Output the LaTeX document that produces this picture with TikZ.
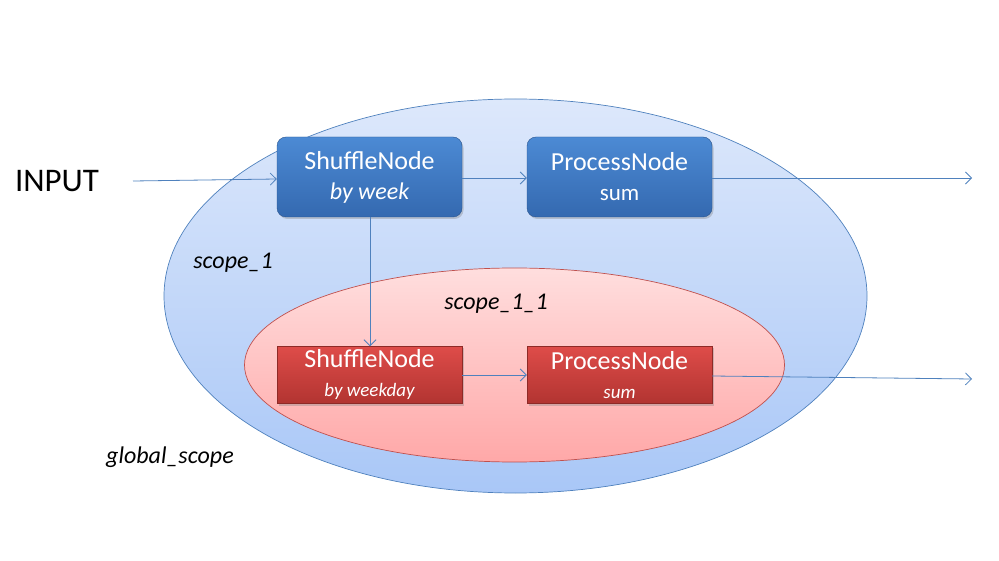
\documentclass[tikz,border=0pt]{standalone}
\usepackage{fontspec}
\setmainfont{Carlito}
\usetikzlibrary{arrows.meta}
\usetikzlibrary{shadows}

\definecolor{edgeblue}{HTML}{4F81BD}
\definecolor{edgered}{HTML}{C0504D}
\definecolor{scopetop}{HTML}{DDE8FB}
\definecolor{scopebot}{HTML}{A9C7F7}
\definecolor{pinktop}{HTML}{FFDEDE}
\definecolor{pinkbot}{HTML}{FFA8A8}
\definecolor{boxtop}{HTML}{4C8AD4}
\definecolor{boxbot}{HTML}{3469B0}
\definecolor{redtop}{HTML}{DE4C49}
\definecolor{redbot}{HTML}{B23431}

\tikzset{
  flow/.style={draw=edgeblue, line width=0.8pt, -{Straight Barb[length=6pt,width=12pt]}},
  bluenode/.style={rounded corners=9pt, draw=boxbot!80!black, top color=boxtop, bottom color=boxbot,
    text=white, align=center, minimum width=185pt, minimum height=80pt, inner sep=0pt,
    font=\fontsize{26}{30}\selectfont,
    drop shadow={shadow xshift=1.5pt, shadow yshift=-2pt, opacity=0.35}},
  rednode/.style={draw=redbot!80!black, top color=redtop, bottom color=redbot,
    text=white, align=center, minimum width=185pt, minimum height=57pt, inner sep=0pt,
    font=\fontsize{26}{29}\selectfont,
    drop shadow={shadow xshift=1.5pt, shadow yshift=-2pt, opacity=0.35}},
  scopelabel/.style={font=\fontsize{24}{28}\selectfont\itshape}
}

\begin{document}
\begin{tikzpicture}[x=1pt,y=-1pt]
\useasboundingbox (0,0) rectangle (999,561);
% scopes
\shade[top color=scopetop, bottom color=scopebot, draw=edgeblue, line width=0.7pt]
  (515.5,296) ellipse [x radius=351.5, y radius=197];
\shade[top color=pinktop, bottom color=pinkbot, draw=edgered, line width=0.7pt]
  (514.5,365) ellipse [x radius=270, y radius=97];
\node[scopelabel] (sc1) at (233,263) {scope\_1};
\node[scopelabel] (sc11) at (496,304) {scope\_1\_1};
\node[scopelabel] (glob) at (170,457) {global\_scope};
% nodes
\node[bluenode] (shuffle) at (369.5,177)
  {ShuffleNode\\{\fontsize{24}{30}\selectfont\itshape by week}};
\node[bluenode] (process) at (619.5,177)
  {ProcessNode\\{\fontsize{23}{30}\selectfont sum}};
\node[rednode] (shuffleday) at (369.5,375)
  {ShuffleNode\\{\fontsize{19}{29}\selectfont\itshape by weekday}};
\node[rednode] (processday) at (619.5,375)
  {ProcessNode\\{\fontsize{19}{29}\selectfont\itshape sum}};
\node[font=\fontsize{33}{38}\selectfont] (input) at (57,181) {INPUT};
\coordinate (in) at (133,181);
\coordinate (outa) at (972,178);
\coordinate (outb) at (972,379);
% connectors
\draw[flow] (in) -- (shuffle.west |- 0,179);
\draw[flow] (shuffle.east |- 0,178) -- (process.west |- 0,178);
\draw[flow] (process.east |- 0,178) -- (outa);
\draw[flow] (shuffle.south -| 370,0) -- (shuffleday.north -| 370,0);
\draw[flow] (shuffleday.east |- 0,375) -- (processday.west |- 0,375);
\draw[flow] (processday.east |- 0,376) -- (outb);
\end{tikzpicture}
\end{document}
